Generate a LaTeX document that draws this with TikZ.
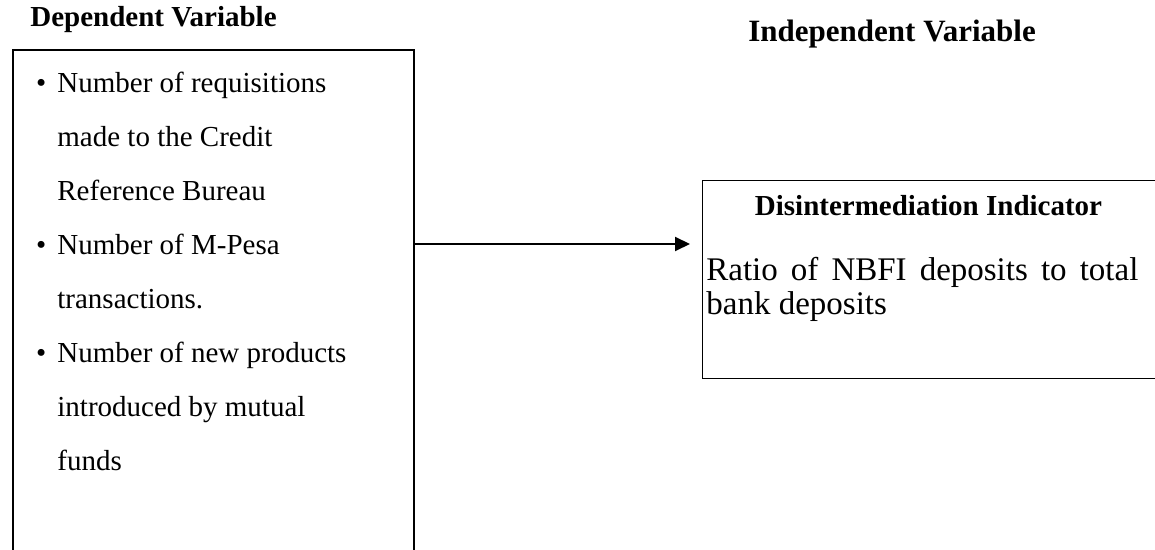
\documentclass[tikz,border=0pt]{standalone}
\usepackage{fontspec}
\setmainfont{Liberation Serif}
\usetikzlibrary{arrows.meta}
\newcommand{\itembullet}{\leavevmode\llap{\textbullet\hspace{5.5pt}}}
\begin{document}
\begin{tikzpicture}[x=0.5pt,y=-0.5pt,
	heading/.style={font=\bfseries\fontsize{14.5}{17}\selectfont, inner sep=0pt},
	itemtext/.style={font=\fontsize{14.5}{27}\selectfont, inner sep=0pt, anchor=base west},
	boxline/.style={draw, inner sep=0pt, anchor=north west}]
	\useasboundingbox (0,0) rectangle (1155,550);
	\clip (0,0) rectangle (1155,550);
	% titles
	\node [heading, anchor=base west] (deptitle) at (30,27) {Dependent Variable};
	\node [heading, font=\bfseries\fontsize{15.5}{18}\selectfont, anchor=base west] (indtitle) at (748,42) {Independent Variable};
	% left box
	\node [boxline, line width=1pt, minimum width=200.5pt, minimum height=262pt] (depbox) at (12,49) {};
	\node [itemtext] (req) at (57,93) {\parbox[t]{170pt}{\raggedright\itembullet Number of requisitions\\made to the Credit\\Reference Bureau}};
	\node [itemtext] (mpesa) at (57,255) {\parbox[t]{170pt}{\raggedright\itembullet Number of M-Pesa\\transactions.}};
	\node [itemtext] (funds) at (57,363) {\parbox[t]{170pt}{\raggedright\itembullet Number of new products\\introduced by mutual\\funds}};
	% right box
	\node [boxline, line width=0.7pt, minimum width=232pt, minimum height=99pt] (indbox) at (702,180) {};
	\node [heading, anchor=base] (indhead) at (928.5,216) {Disintermediation Indicator};
	\node [anchor=base west, inner sep=0pt, font=\fontsize{16.5}{17}\selectfont] (ratio) at (706,281) {\parbox[t]{216pt}{Ratio of NBFI deposits to total bank deposits}};
	% arrow
	\coordinate (tip) at (690,244);
	\draw [line width=1pt, -{Triangle[length=7.5pt, width=7pt]}] (depbox.east |- tip) -- (tip);
\end{tikzpicture}
\end{document}
